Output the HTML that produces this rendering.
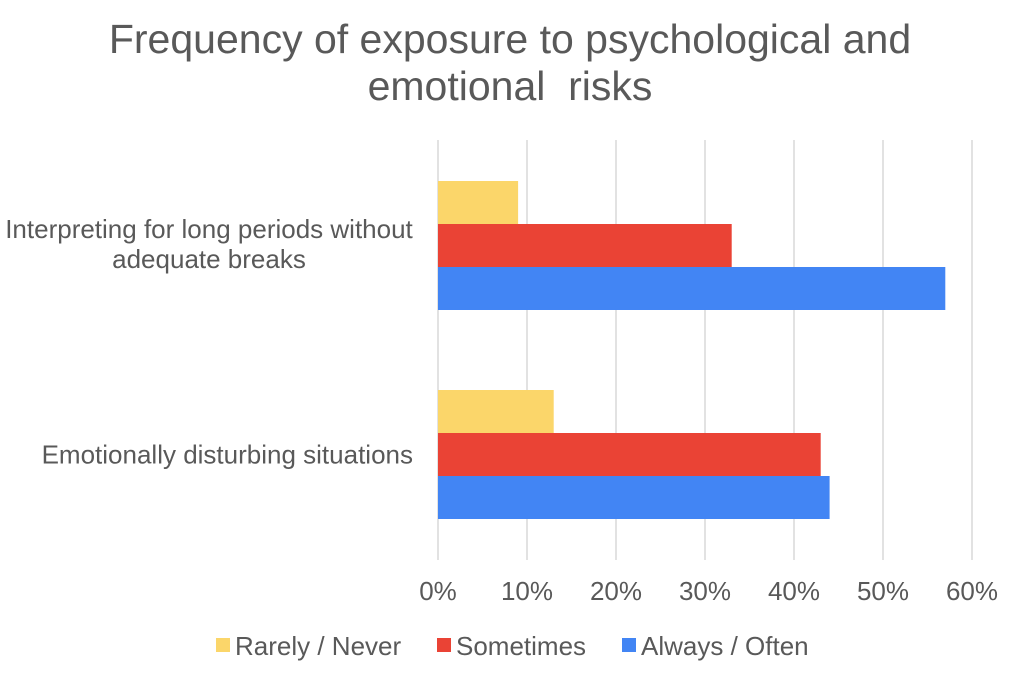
<!DOCTYPE html>
<html><head><meta charset="utf-8"><style>
body{margin:0;background:#fff;}
svg{display:block;font-family:"Liberation Sans",Arial,sans-serif;}
</style></head><body>
<svg id="chart" width="1023" height="680">
<rect width="1023" height="680" fill="#fff"/>
<text x="510" y="53" text-anchor="middle" font-size="41" fill="#595959">Frequency of exposure to psychological and</text>
<text x="510" y="100" text-anchor="middle" font-size="41" fill="#595959" style="white-space:pre">emotional  risks</text>
<g id="grid"></g><g id="bars"></g><g id="ticks"></g><g id="cats"></g>
<g>
<rect x="216" y="638" width="14" height="14" fill="#fbd66a"/>
<text x="235" y="655" font-size="26" fill="#595959">Rarely / Never</text>
<rect x="437" y="638" width="14" height="14" fill="#ea4335"/>
<text x="456" y="655" font-size="26" fill="#595959">Sometimes</text>
<rect x="622" y="638" width="14" height="14" fill="#4285f4"/>
<text x="641" y="655" font-size="26" fill="#595959">Always / Often</text>
</g>
</svg>
<script>
const categories=["Interpreting for long periods without|adequate breaks","Emotionally disturbing situations"];
const rarely=[9,13];
const sometimes=[33,43];
const always=[57,44];
const ticks=[0,10,20,30,40,50,60];
const NS="http://www.w3.org/2000/svg";
const x0=438,pxPer=8.9,plotTop=140,plotBottom=560;
const xs=v=>x0+v*pxPer;
function mk(tag,attrs,parent){const e=document.createElementNS(NS,tag);for(const k in attrs)e.setAttribute(k,attrs[k]);document.getElementById(parent).appendChild(e);return e;}
ticks.forEach(t=>{
 const l=mk('line',{x1:xs(t),x2:xs(t),y1:plotTop,y2:plotBottom,stroke:'#d9d9d9','stroke-width':1.5},'grid');
 
 
 const tx=mk('text',{x:xs(t),y:600,'text-anchor':'middle','font-size':26,fill:'#595959'},'ticks');
 tx.textContent=t+'%';
 
 
});
const series=[[rarely,'#fbd66a','rarely'],[sometimes,'#ea4335','sometimes'],[always,'#4285f4','always']];
const groupTop=[181,390],bh=43;
categories.forEach((c,i)=>{
 series.forEach((s,j)=>{
  const r=mk('rect',{x:x0,y:groupTop[i]+j*bh,width:xs(s[0][i])-x0,height:bh,fill:s[1]},'bars');
  
  
 });
 const lines=c.split('|');const cy=groupTop[i]+1.5*bh;
 const multi=lines.length>1;
 lines.forEach((ln,k)=>{
  const y=multi?cy+7.5+(k-0.5)*30:cy+9;
  const t=mk('text',{x:multi?209:413,y:y,'text-anchor':multi?'middle':'end','font-size':26,fill:'#595959'},'cats');
  t.textContent=ln;
  
  
 });
});
</script>
</body></html>
